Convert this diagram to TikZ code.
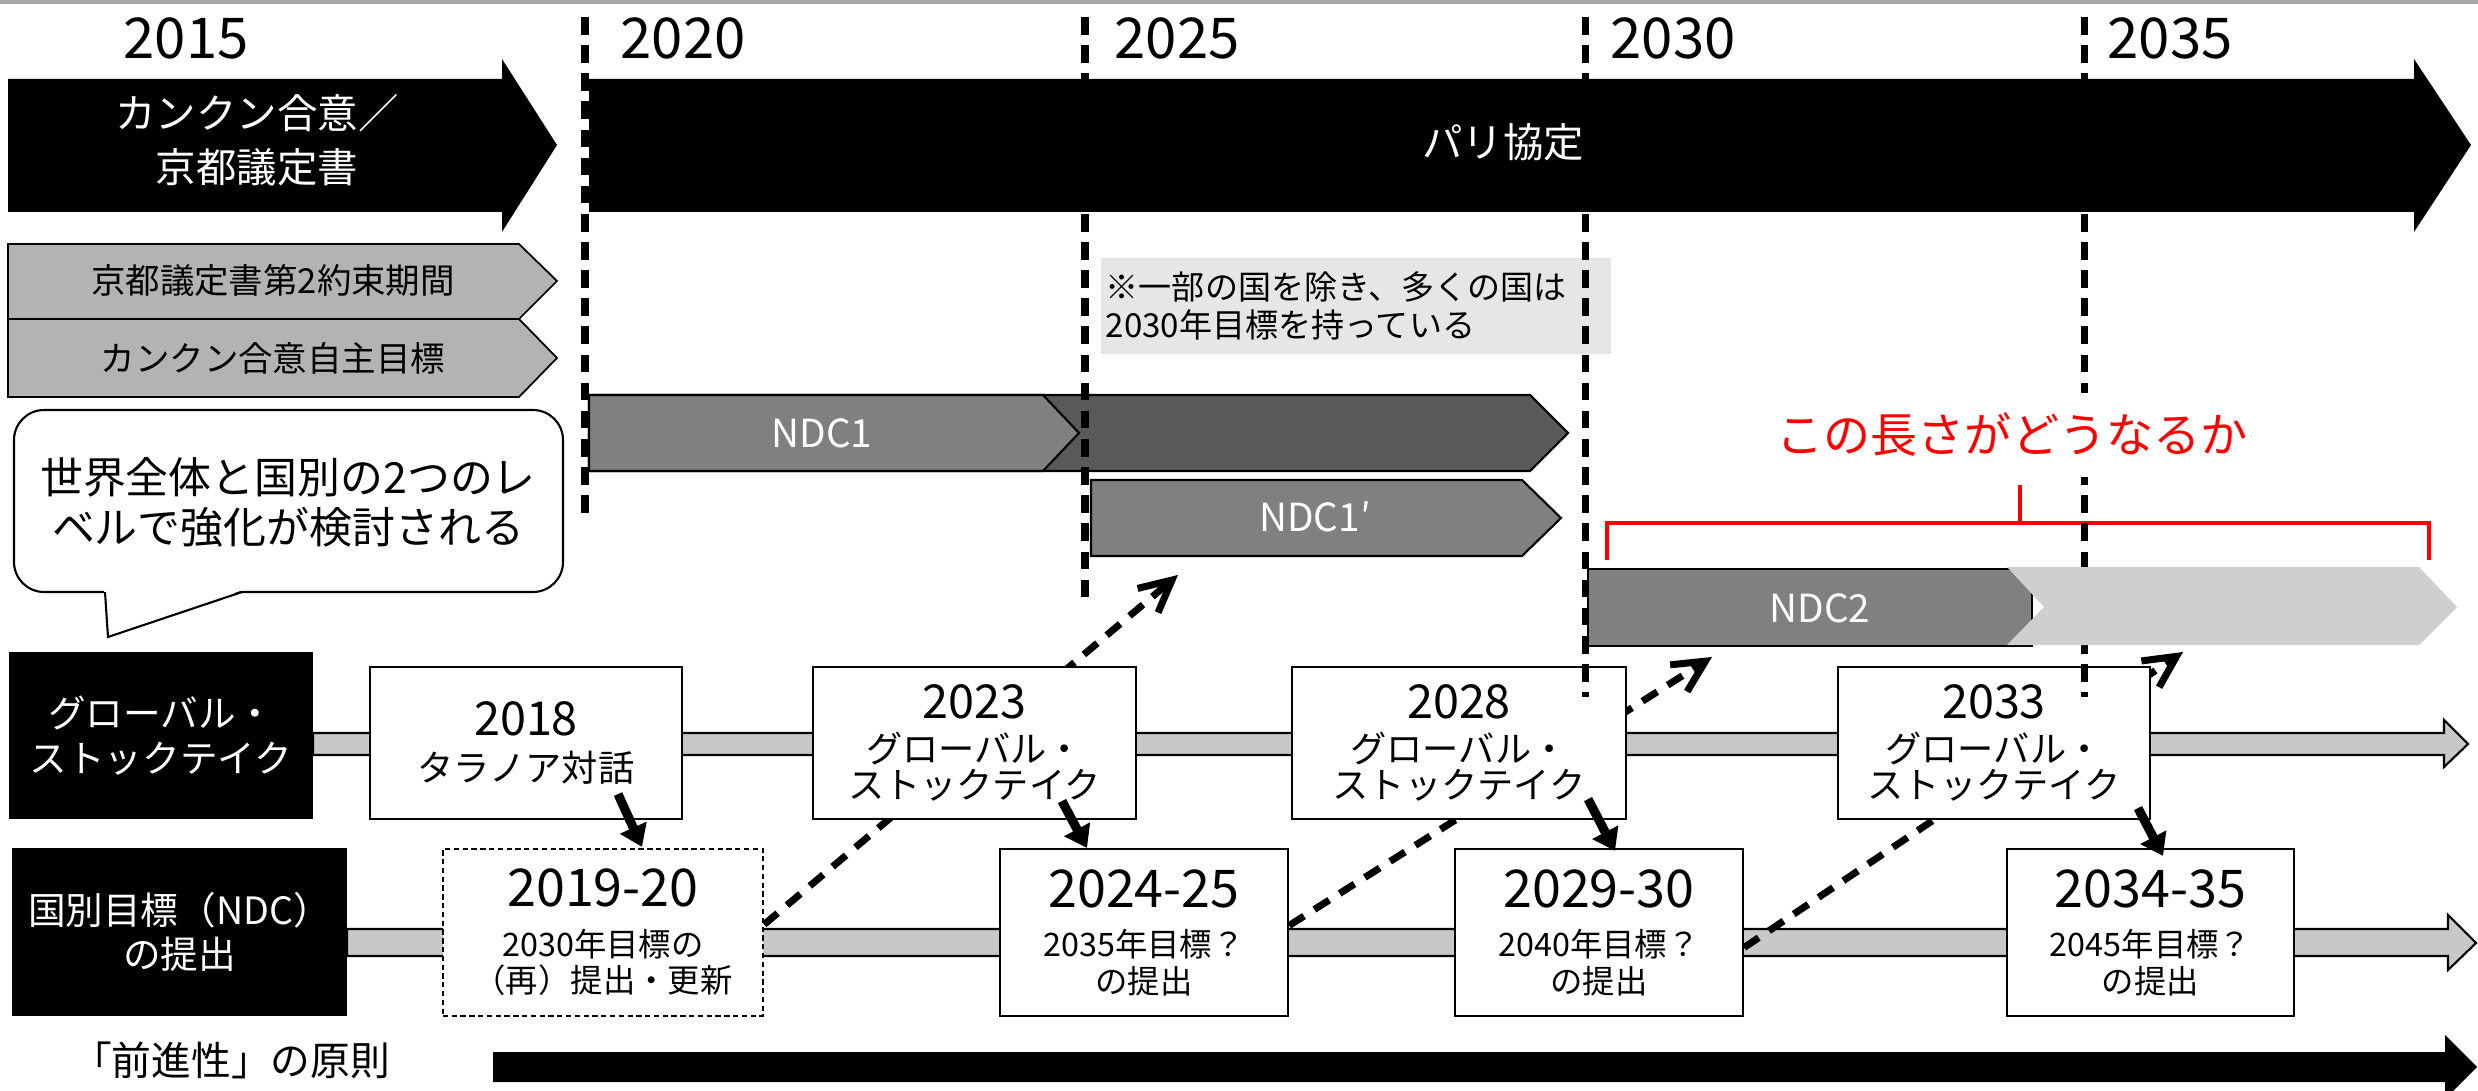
\documentclass[tikz,border=0pt]{standalone}
\usepackage{fontspec}
\setmainfont{Noto Sans CJK JP}
\usepackage{tikz}
\usetikzlibrary{arrows.meta,calc}

\definecolor{ndcdark}{HTML}{595959}
\definecolor{ndcmid}{HTML}{808080}
\definecolor{ndclight}{HTML}{D0CFD0}
\definecolor{kyotogray}{HTML}{B3B3B3}
\definecolor{bargray}{HTML}{C8C8C8}
\definecolor{notegray}{HTML}{E6E6E6}
\definecolor{rulegray}{HTML}{A6A6A6}

\begin{document}
\begin{tikzpicture}[auto, x=0.01cm, y=-0.01cm,
      year_label/.style ={inner sep=0pt, font=\fontsize{16}{18}\selectfont},
      treaty_arrow/.style ={fill=black, draw=none},
      treaty_text/.style ={text=white, align=center, inner sep=0pt,
        font=\fontsize{11.5}{15.3}\selectfont},
      period_arrow/.style ={fill=kyotogray, draw=black, line width=0.5pt},
      period_text/.style ={inner sep=0pt, font=\fontsize{9.8}{12}\selectfont},
      ndc_arrow/.style ={draw=black, line width=0.6pt},
      ndc_text/.style ={text=white, inner sep=0pt, font=\fontsize{11}{13}\selectfont},
      block_note/.style ={rectangle, fill=notegray, inner xsep=1pt, inner ysep=0pt,
        text width=5.0cm, minimum height=0.96cm, align=left,
        font=\fontsize{9.4}{11}\selectfont},
      block_bubble/.style ={draw=black, fill=white, line width=0.6pt,
        rounded corners=0.3cm},
      bar_line/.style ={fill=bargray, draw=black, line width=0.6pt},
      block_label/.style ={rectangle, fill=black, text=white, align=center,
        inner sep=0pt, font=\fontsize{10.7}{12.7}\selectfont},
      block_gst/.style ={rectangle, draw=black, fill=white, line width=0.6pt,
        align=center, inner sep=0pt, minimum height=1.52cm,
        font=\fontsize{10.3}{10.3}\selectfont},
      block_ndc/.style ={rectangle, draw=black, fill=white, line width=0.6pt,
        align=center, inner sep=0pt, minimum height=1.67cm,
        font=\fontsize{9.2}{10.5}\selectfont},
      year_rule/.style ={line width=2pt, dash pattern=on 5pt off 3pt},
      red_text/.style ={text=red, fill=white, inner xsep=2pt, inner ysep=0pt,
        minimum height=0.84cm, font=\fontsize{13.4}{16}\selectfont},
      red_bracket/.style ={draw=red, line width=1.4pt},
      line/.style ={draw, line width=2.6pt, -{Triangle[length=6pt,width=8pt]}},
      next_line/.style ={draw, line width=2pt, dash pattern=on 5pt off 3.5pt,
        -{Straight Barb[length=9pt,width=9pt]}}]
    %
    % 0. canvas
    \useasboundingbox (0,0) rectangle (2478,1091);
    \fill[white] (0,0) rectangle (2478,1091);
    \draw[rulegray, line width=1.1pt] (0,2) -- (2478,2);
    %
    % 1. years and the two agreements
    \node [year_label] (y2015) at (186,38) {2015};
    \node [year_label] (y2020) at (683,38) {2020};
    \node [year_label] (y2025) at (1177,38) {2025};
    \node [year_label] (y2030) at (1673,38) {2030};
    \node [year_label] (y2035) at (2170,38) {2035};
    \path [treaty_arrow] (8,79) -- (502,79) -- (502,59) -- (557,145)
      -- (502,232) -- (502,212) -- (8,212) -- cycle;
    \path [treaty_arrow] (589,79) -- (2414,79) -- (2414,59) -- (2471,145)
      -- (2414,232) -- (2414,212) -- (589,212) -- cycle;
    \node [treaty_text] (cancun) at (257,140) {カンクン合意／\\京都議定書};
    \node [treaty_text] (paris) at (1503,142) {パリ協定};
    %
    % 2. pre-2020 periods, note, NDC1
    \path [period_arrow] (8,244) -- (519,244) -- (557,281) -- (519,319) -- (8,319) -- cycle;
    \path [period_arrow] (8,319) -- (519,319) -- (557,358) -- (519,397) -- (8,397) -- cycle;
    \node [period_text] (kp2) at (273,280) {京都議定書第2約束期間};
    \node [period_text] (cancun_goal) at (273,358) {カンクン合意自主目標};
    \node [block_note, minimum width=5.1cm] (note) at (1356,306)
      {※一部の国を除き、多くの国は\\2030年目標を持っている};
    \path [ndc_arrow, fill=ndcdark] (589,395) -- (1530,395) -- (1568,433)
      -- (1530,471) -- (589,471) -- cycle;
    \path [ndc_arrow, fill=ndcmid] (589,395) -- (1043,395) -- (1079,433)
      -- (1043,471) -- (589,471) -- cycle;
    \path [ndc_arrow, fill=ndcmid] (1091,480) -- (1522,480) -- (1561,518)
      -- (1522,556) -- (1091,556) -- cycle;
    \node [ndc_text] (ndc1) at (822,433) {NDC1};
    \node [ndc_text] (ndc1p) at (1315,517) {NDC1′};
    %
    % 3. speech bubble
    \path [block_bubble] (14,410) rectangle (563,592);
    \fill [white] (104,589) -- (108,637) -- (246,589) -- cycle;
    \draw [line width=0.6pt] (105,592) -- (108,637) -- (242,592);
    \node [treaty_text, text=black, font=\fontsize{12.2}{14.2}\selectfont] (bubble)
      at (288,502) {世界全体と国別の2つのレ\\ベルで強化が検討される};
    %
    % 4. the two process rows
    \path [bar_line] (313,733) -- (2444,733) -- (2444,720) -- (2468,744)
      -- (2444,767) -- (2444,755) -- (313,755) -- cycle;
    \path [bar_line] (347,929) -- (2448,929) -- (2448,915) -- (2476,943)
      -- (2448,970) -- (2448,956) -- (347,956) -- cycle;
    \path [fill=black] (493,1052) -- (2445,1052) -- (2445,1035) -- (2477,1067)
      -- (2445,1099) -- (2445,1082) -- (493,1082) -- cycle;
    \node [block_label, minimum width=3.04cm, minimum height=1.67cm] (lbl_gst)
      at (161,735.5) {グローバル・\\ストックテイク};
    \node [block_label, minimum width=3.35cm, minimum height=1.68cm] (lbl_ndc)
      at (179.5,932) {国別目標（NDC）\\の提出};
    \node [inner sep=0pt, font=\fontsize{11.3}{13}\selectfont] (ratchet)
      at (231,1060) {「前進性」の原則};
    %
    % row 2 - submissions
    \node [block_ndc, minimum width=3.2cm, dash pattern=on 1.5pt off 1pt] (ndc20)
      at (603,932.5) {{\fontsize{14.8}{16}\selectfont 2019-20}\\[3.5pt]2030年目標の\\（再）提出・更新};
    \node [block_ndc, minimum width=2.88cm] (ndc25)
      at (1144,932.5) {{\fontsize{14.8}{16}\selectfont 2024-25}\\[3.5pt]2035年目標？\\の提出};
    \node [block_ndc, minimum width=2.88cm] (ndc30)
      at (1599,932.5) {{\fontsize{14.8}{16}\selectfont 2029-30}\\[3.5pt]2040年目標？\\の提出};
    \node [block_ndc, minimum width=2.87cm] (ndc35)
      at (2150.5,932.5) {{\fontsize{14.8}{16}\selectfont 2034-35}\\[3.5pt]2045年目標？\\の提出};
    %
    % next NDC, behind the stocktake boxes
    \coordinate (tip1) at (1178,575);
    \coordinate (tip2) at (1712,657);
    \coordinate (tip3) at (2183,652);
    \begin{scope}[every path/.style=next_line]
      \path ($(ndc20.east)+(0,-8)$) -- (tip1);
      \path ($(ndc25.east)+(0,-7)$) -- (tip2);
      \path ($(ndc30.east)+(0,15)$) -- (tip3);
    \end{scope}
    %
    % row 1 - stocktakes
    \node [block_gst, minimum width=3.12cm] (gst18)
      at (526,743) {{\fontsize{13.3}{14}\selectfont 2018}\\[2.6pt]タラノア対話};
    \node [block_gst, minimum width=3.23cm] (gst23)
      at (974.5,743) {{\fontsize{13.3}{14}\selectfont 2023}\\[2.3pt]グローバル・\\ストックテイク};
    \node [block_gst, minimum width=3.34cm] (gst28)
      at (1459,743) {{\fontsize{13.3}{14}\selectfont 2028}\\[2.3pt]グローバル・\\ストックテイク};
    \node [block_gst, minimum width=3.12cm] (gst33)
      at (1994,743) {{\fontsize{13.3}{14}\selectfont 2033}\\[2.3pt]グローバル・\\ストックテイク};
    %
    % stocktake -> submission
    \begin{scope}[every path/.style=line]
      \path ($(gst18.south)+(92,-26)$) -- ($(ndc20.north)+(39,-1)$);
      \path ($(gst23.south)+(87.5,-19)$) -- ($(ndc25.north)+(-57,0)$);
      \path ($(gst28.south)+(129,-21)$) -- ($(ndc30.north)+(16,3)$);
      \path ($(gst33.south)+(144,-12)$) -- ($(ndc35.north)+(12.5,8)$);
    \end{scope}
    %
    % 5. year rules, NDC2 and its length
    \path [red_bracket] (1607,560) -- (1607,523) -- (2429,523) -- (2429,560);
    \path [red_bracket] (2020,523) -- (2020,485);
    \draw [year_rule] (585,17) -- (585,515);
    \draw [year_rule] (1085,17) -- (1085,600);
    \draw [year_rule] (1585,17) -- (1585,697);
    \draw [year_rule] (2084,17) -- (2084,697);
    \path [ndc_arrow, fill=ndcmid, line width=0.8pt] (1588,569) rectangle (2032,646);
    \fill [ndclight] (2007,567) -- (2419,567) -- (2457,607) -- (2419,645)
      -- (2007,645) -- (2044,607) -- cycle;
    \node [ndc_text] (ndc2) at (1820,608) {NDC2};
    \node [red_text] (question) at (2012,435) {この長さがどうなるか};
\end{tikzpicture}
\end{document}
